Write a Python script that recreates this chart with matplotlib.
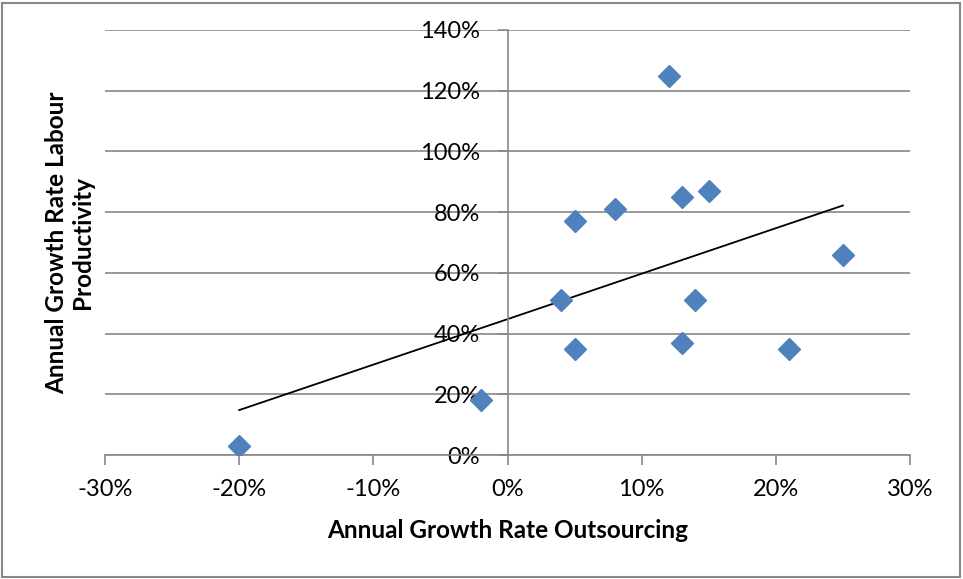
import matplotlib.pyplot as plt
import numpy as np
from matplotlib.patches import Rectangle
from matplotlib.ticker import PercentFormatter

# Данные (в процентах)
outsourcing = [-20, -2, 4, 5, 5, 8, 12, 13, 13, 14, 15, 21, 25]
productivity = [3, 18, 51, 77, 35, 81, 125, 85, 37, 51, 87, 35, 66]
x_ticks = [-30, -20, -10, 0, 10, 20, 30]
y_ticks = [0, 20, 40, 60, 80, 100, 120, 140]

plt.rcParams['font.family'] = ['Lato', 'DejaVu Sans']
plt.rcParams['axes.unicode_minus'] = False

fig = plt.figure(figsize=(9.63, 5.79), dpi=100)
ax = fig.add_axes([105 / 963, 124 / 579, 805 / 963, 425 / 579])

grid_col = '#878787'

# точки
ax.plot(outsourcing, productivity, linestyle='none', marker='D', markersize=11,
        color='#4F81BD', zorder=3)

# линия тренда (МНК)
k, b = np.polyfit(outsourcing, productivity, 1)
xs = np.array([min(outsourcing), max(outsourcing)])
ax.plot(xs, k * xs + b, color='black', linewidth=1.3, zorder=2)

ax.set_xlim(-30, 30)
ax.set_ylim(0, 140)
ax.set_xticks(x_ticks)
ax.set_yticks(y_ticks)
ax.xaxis.set_major_formatter(PercentFormatter(decimals=0))
ax.yaxis.set_major_formatter(PercentFormatter(decimals=0))

ax.grid(axis='y', color=grid_col, linewidth=1.2)
ax.set_axisbelow(True)

ax.spines['left'].set_position(('data', 0))
ax.spines['right'].set_visible(False)
ax.spines['top'].set_visible(False)
for s in ('left', 'bottom'):
    ax.spines[s].set_color(grid_col)
    ax.spines[s].set_linewidth(1.2)

ax.tick_params(axis='both', colors=grid_col, labelcolor='black', labelsize=17,
               length=7, width=1.2)
ax.tick_params(axis='x', pad=10)
ax.tick_params(axis='y', pad=13)

ax.set_xlabel('Annual Growth Rate Outsourcing', fontsize=17.5, fontweight='bold',
              labelpad=14)
fig.text(70 / 963, 1 - 243 / 579, 'Annual Growth Rate Labour\nProductivity',
         rotation=90, ha='center', va='center', fontsize=17.5, fontweight='bold',
         linespacing=1.15)

# рамка вокруг диаграммы
fig.patches.append(Rectangle((2 / 963, 2 / 579), 958 / 963, 574 / 579,
                             transform=fig.transFigure, fill=False,
                             edgecolor=grid_col, linewidth=1.5))

fig.savefig('out.png', dpi=100)
